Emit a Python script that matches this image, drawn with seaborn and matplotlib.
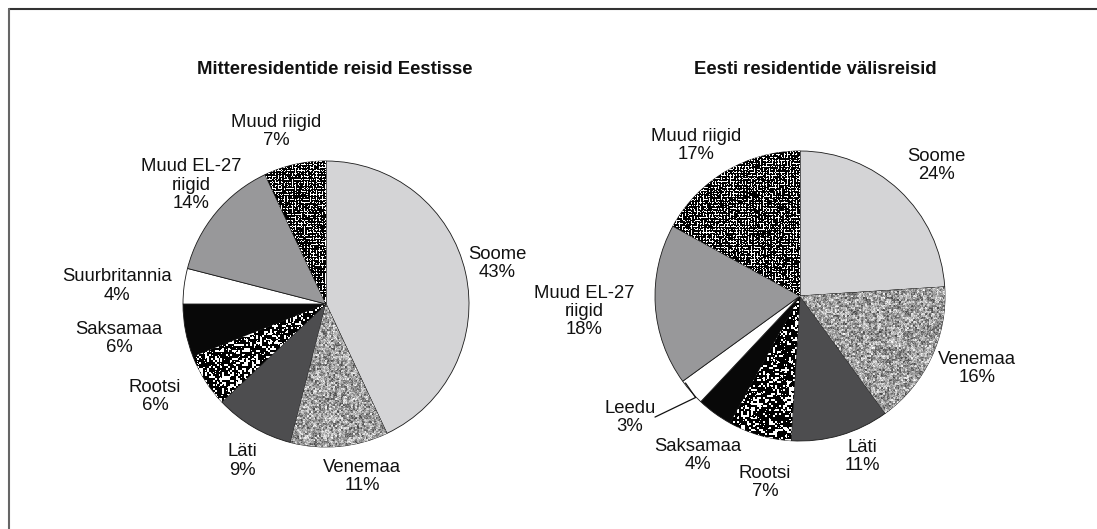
# Two pie charts: trips of non-residents to Estonia / Estonian residents abroad

import numpy as np
import seaborn as sns
import matplotlib.pyplot as plt
from matplotlib.lines import Line2D

# -------------------------------
# 1. Data
# -------------------------------
left_title = "Mitteresidentide reisid Eestisse"
left_labels = ["Soome", "Venemaa", "Läti", "Rootsi", "Saksamaa",
               "Suurbritannia", "Muud EL-27\nriigid", "Muud riigid"]
left_values = [43, 11, 9, 6, 6, 4, 14, 7]

right_title = "Eesti residentide välisreisid"
right_labels = ["Soome", "Venemaa", "Läti", "Rootsi", "Saksamaa",
                "Leedu", "Muud EL-27\nriigid", "Muud riigid"]
right_values = [24, 16, 11, 7, 4, 3, 18, 17]

# -------------------------------
# 2. Layout (pixels of the 1097x529 picture, label spots in pie radii)
# -------------------------------
W, H = 1097, 529
left_center, left_r = (326, 304), 143
right_center, right_r = (800, 296), 145

left_label_pos = [(1.196, 0.280), (0.252, -1.203), (-0.587, -1.098), (-1.196, -0.650),
                  (-1.448, -0.238), (-1.462, 0.126), (-0.944, 0.832), (-0.350, 1.203)]
right_label_pos = [(0.938, 0.903), (1.221, -0.497), (0.428, -1.110), (-0.241, -1.283),
                   (-0.703, -1.103), (-1.172, -0.841), (-1.490, -0.110), (-0.717, 1.041)]

# fill per category: plain grey or a texture name
fills = {
    "Soome": "#d4d4d6",
    "Venemaa": "tex_grey",
    "Läti": "#4d4d4f",
    "Rootsi": "tex_speck",
    "Saksamaa": "#080808",
    "Suurbritannia": "#ffffff",
    "Leedu": "#ffffff",
    "Muud EL-27\nriigid": "#98989a",
    "Muud riigid": "tex_grid",
}

# -------------------------------
# 3. Textures (print-style screens)
# -------------------------------
rng = np.random.default_rng(7)
N = 290


def tex_grey():
    a = rng.random((N // 2, N // 2))
    a = np.kron(a, np.ones((2, 2)))
    b = rng.random(a.shape)
    return np.clip(0.25 + 0.45 * a + 0.3 * b, 0, 1)


def tex_speck():
    a = rng.random((N // 2, N // 2)) < 0.28
    a = np.kron(a.astype(float), np.ones((2, 2))) > 0.5
    a = a | (rng.random(a.shape) < 0.05)
    return a.astype(float)


def tex_grid():
    a = np.zeros((N, N))
    rows = rng.random(a[::3, :].shape) < 0.55
    cols = rng.random(a[:, ::3].shape) < 0.55
    a[::3, :] = rows
    a[:, ::3] = np.maximum(a[:, ::3], cols)
    a = a * (rng.random((N, N)) < 0.85)
    return a


textures = {"tex_grey": tex_grey, "tex_speck": tex_speck, "tex_grid": tex_grid}

# -------------------------------
# 4. Figure
# -------------------------------
sns.set_theme(style="white")
plt.rcParams['font.family'] = ['Liberation Sans', 'DejaVu Sans']

fig = plt.figure(figsize=(W / 100, H / 100), dpi=100)
LIM = 1.7


def draw_pie(center, r, labels, values, label_pos):
    cx, cy = center
    side = 2 * LIM * r
    ax = fig.add_axes([(cx - LIM * r) / W, 1 - (cy + LIM * r) / H, side / W, side / H])
    colors = [fills[l] if not fills[l].startswith("tex") else "#ffffff" for l in labels]
    wedges, _ = ax.pie(values, colors=colors, startangle=90, counterclock=False,
                       wedgeprops=dict(edgecolor="#1a1a1a", linewidth=0.6))
    for w, lab in zip(wedges, labels):
        kind = fills[lab]
        if kind.startswith("tex"):
            im = ax.imshow(textures[kind](), extent=(-1, 1, -1, 1), cmap="gray",
                           vmin=0, vmax=1, interpolation="nearest", zorder=w.get_zorder() + 0.1)
            im.set_clip_path(w)
    total = sum(values)
    for lab, v, (px, py) in zip(labels, values, label_pos):
        pct = round(100 * v / total)
        ax.text(px, py, f"{lab}\n{pct}%", ha="center", va="center", fontsize=13.3,
                linespacing=1.08, color="#111111", multialignment="center")
    ax.set_xlim(-LIM, LIM)
    ax.set_ylim(-LIM, LIM)
    ax.set_aspect("equal")
    ax.axis("off")
    return ax


ax1 = draw_pie(left_center, left_r, left_labels, left_values, left_label_pos)
ax2 = draw_pie(right_center, right_r, right_labels, right_values, right_label_pos)

# leader line for the small Leedu slice
ax2.plot([-0.79, -0.72, -1.0], [-0.60, -0.70, -0.835], color="#111111", lw=0.9, zorder=5)

# titles
fig.text(335 / W, 1 - 70 / H, left_title, ha="center", va="center",
         fontsize=13.3, fontweight="bold", color="#111111")
fig.text(815 / W, 1 - 70 / H, right_title, ha="center", va="center",
         fontsize=13.3, fontweight="bold", color="#111111")

# frame (top and left edge visible)
fig.add_artist(Line2D([9 / W, 1], [1 - 9 / H, 1 - 9 / H], transform=fig.transFigure,
                      color="#333333", lw=1.5))
fig.add_artist(Line2D([9 / W, 9 / W], [0, 1 - 9 / H], transform=fig.transFigure,
                      color="#666666", lw=1.5))

plt.savefig("out.png", dpi=100)
